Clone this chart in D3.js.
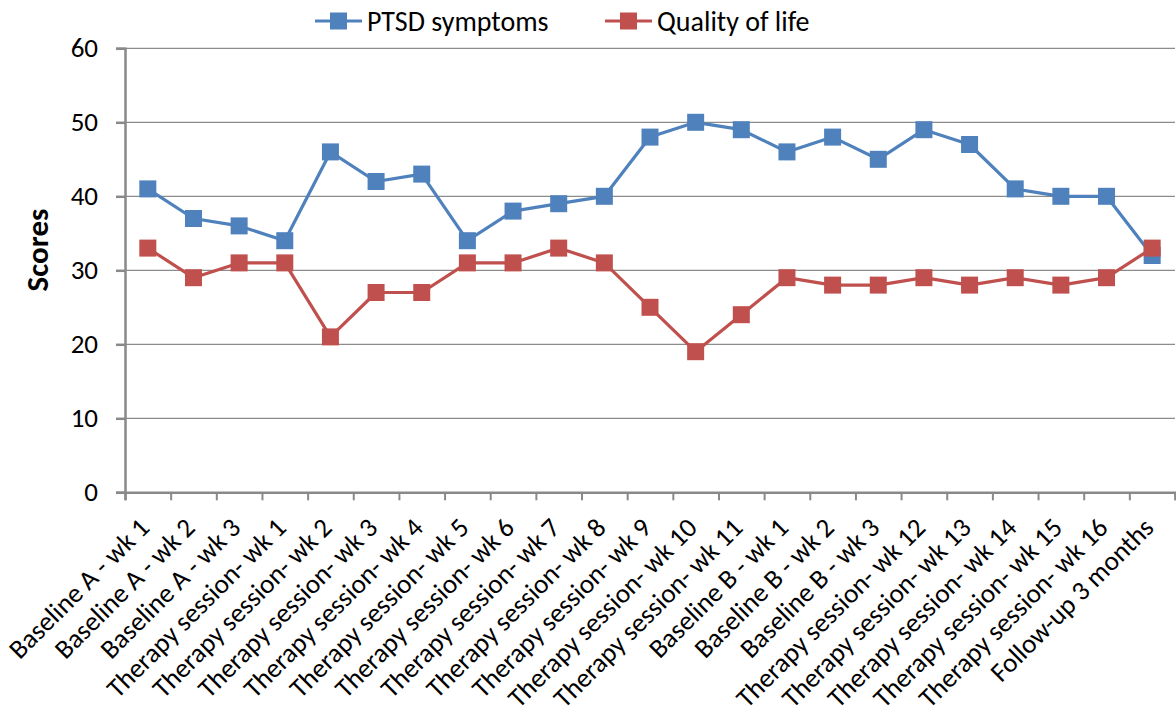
<!DOCTYPE html>
<html>
<head>
<meta charset="utf-8">
<script src="https://cdn.jsdelivr.net/npm/d3@7"></script>
<style>
  body { margin: 0; background: #fff; }
  svg text { font-family: Carlito, Calibri, Lato, sans-serif; }
</style>
</head>
<body>
<div id="chart"></div>
<script>
// categories along the x axis
var weeks = ["Baseline A - wk 1", "Baseline A - wk 2", "Baseline A - wk 3",
  "Therapy session- wk 1", "Therapy session- wk 2", "Therapy session- wk 3",
  "Therapy session- wk 4", "Therapy session- wk 5", "Therapy session- wk 6",
  "Therapy session- wk 7", "Therapy session- wk 8", "Therapy session- wk 9",
  "Therapy session- wk 10", "Therapy session- wk 11", "Baseline B - wk 1",
  "Baseline B - wk 2", "Baseline B - wk 3", "Therapy session- wk 12",
  "Therapy session- wk 13", "Therapy session- wk 14", "Therapy session- wk 15",
  "Therapy session- wk 16", "Follow-up 3 months"];

var ptsd = [41, 37, 36, 34, 46, 42, 43, 34, 38, 39, 40, 48, 50, 49, 46, 48, 45, 49, 47, 41, 40, 40, 32];
var qol  = [33, 29, 31, 31, 21, 27, 27, 31, 31, 33, 31, 25, 19, 24, 29, 28, 28, 29, 28, 29, 28, 29, 33];

var yTicks = [0, 10, 20, 30, 40, 50, 60];
var seriesNames = ["PTSD symptoms", "Quality of life"];
var seriesColors = ["#4F81BD", "#C0504D"];

var W = 1176, H = 713;
var plotL = 125, plotR = 1175, plotT = 48.3, plotB = 492.3;
var fontSize = 27;

var svg = d3.select("#chart").append("svg")
    .attr("width", W).attr("height", H);

var x = d3.scaleBand().domain(weeks).range([plotL, plotR]).padding(0);
var xi = d3.scaleLinear().domain([0, weeks.length]).range([plotL, plotR]);
var y = d3.scaleLinear().domain([0, 60]).range([plotB, plotT]);

// gridlines
svg.append("g").selectAll("line")
    .data(yTicks.slice(1))
    .enter().append("line")
    .attr("x1", plotL).attr("x2", plotR)
    .attr("y1", function(d){ return y(d); })
    .attr("y2", function(d){ return y(d); })
    .attr("stroke", "#8c8c8c").attr("stroke-width", 1.3);

// y axis
var yAxis = svg.append("g")
    .attr("transform", "translate(" + plotL + ",0)")
    .call(d3.axisLeft(y).tickValues(yTicks).tickSize(9).tickPadding(18));
yAxis.select(".domain").attr("stroke", "#898989").attr("stroke-width", 2.5);
yAxis.selectAll(".tick line").attr("stroke", "#898989").attr("stroke-width", 2.5);
yAxis.selectAll(".tick text")
    .attr("font-size", fontSize).attr("fill", "#000")
    .style("font-family", "Carlito, Calibri, Lato, sans-serif");

// x axis boundary ticks
var xBound = svg.append("g")
    .attr("transform", "translate(0," + plotB + ")")
    .call(d3.axisBottom(xi).tickValues(d3.range(weeks.length + 1)).tickSize(8).tickFormat(""));
xBound.select(".domain").attr("stroke", "#898989").attr("stroke-width", 2.5);
xBound.selectAll(".tick line").attr("stroke", "#898989").attr("stroke-width", 2);

// x labels rotated
var xLab = svg.append("g")
    .attr("transform", "translate(0," + plotB + ")")
    .call(d3.axisBottom(x).tickSize(0).tickPadding(0));
xLab.select(".domain").remove();
xLab.selectAll(".tick text")
    .attr("font-size", fontSize).attr("fill", "#000")
    .style("font-family", "Carlito, Calibri, Lato, sans-serif")
    .attr("text-anchor", "end")
    .attr("y", 0)
    .attr("dy", 0)
    .attr("transform", "translate(3,37) rotate(-45)");

// y title
svg.append("text")
    .attr("transform", "translate(48,250) rotate(-90)")
    .attr("text-anchor", "middle")
    .attr("font-size", 31).attr("font-weight", "bold")
    .text("Scores");

// series
var allSeries = [ptsd, qol];
var line = d3.line()
    .x(function(d, i){ return x(weeks[i]) + x.bandwidth() / 2; })
    .y(function(d){ return y(d); });

allSeries.forEach(function(vals, s){
  svg.append("path")
      .attr("d", line(vals))
      .attr("fill", "none")
      .attr("stroke", seriesColors[s])
      .attr("stroke-width", 3.2)
      .attr("stroke-linejoin", "round");
  svg.append("g").selectAll("rect")
      .data(vals)
      .enter().append("rect")
      .attr("x", function(d, i){ return x(weeks[i]) + x.bandwidth() / 2 - 8.5; })
      .attr("y", function(d){ return y(d) - 8.5; })
      .attr("width", 17).attr("height", 17)
      .attr("fill", seriesColors[s]);
});

// legend
var legX = [315, 605];
seriesNames.forEach(function(name, s){
  var g = svg.append("g").attr("transform", "translate(" + legX[s] + ",21)");
  g.append("line").attr("x1", 0).attr("x2", 47).attr("y1", 0).attr("y2", 0)
      .attr("stroke", seriesColors[s]).attr("stroke-width", 3.2);
  g.append("rect").attr("x", 15).attr("y", -8.5).attr("width", 17).attr("height", 17)
      .attr("fill", seriesColors[s]);
  g.append("text").attr("x", 52).attr("y", 0).attr("dy", "0.35em")
      .attr("font-size", 28).text(name);
});
</script>
</body>
</html>
